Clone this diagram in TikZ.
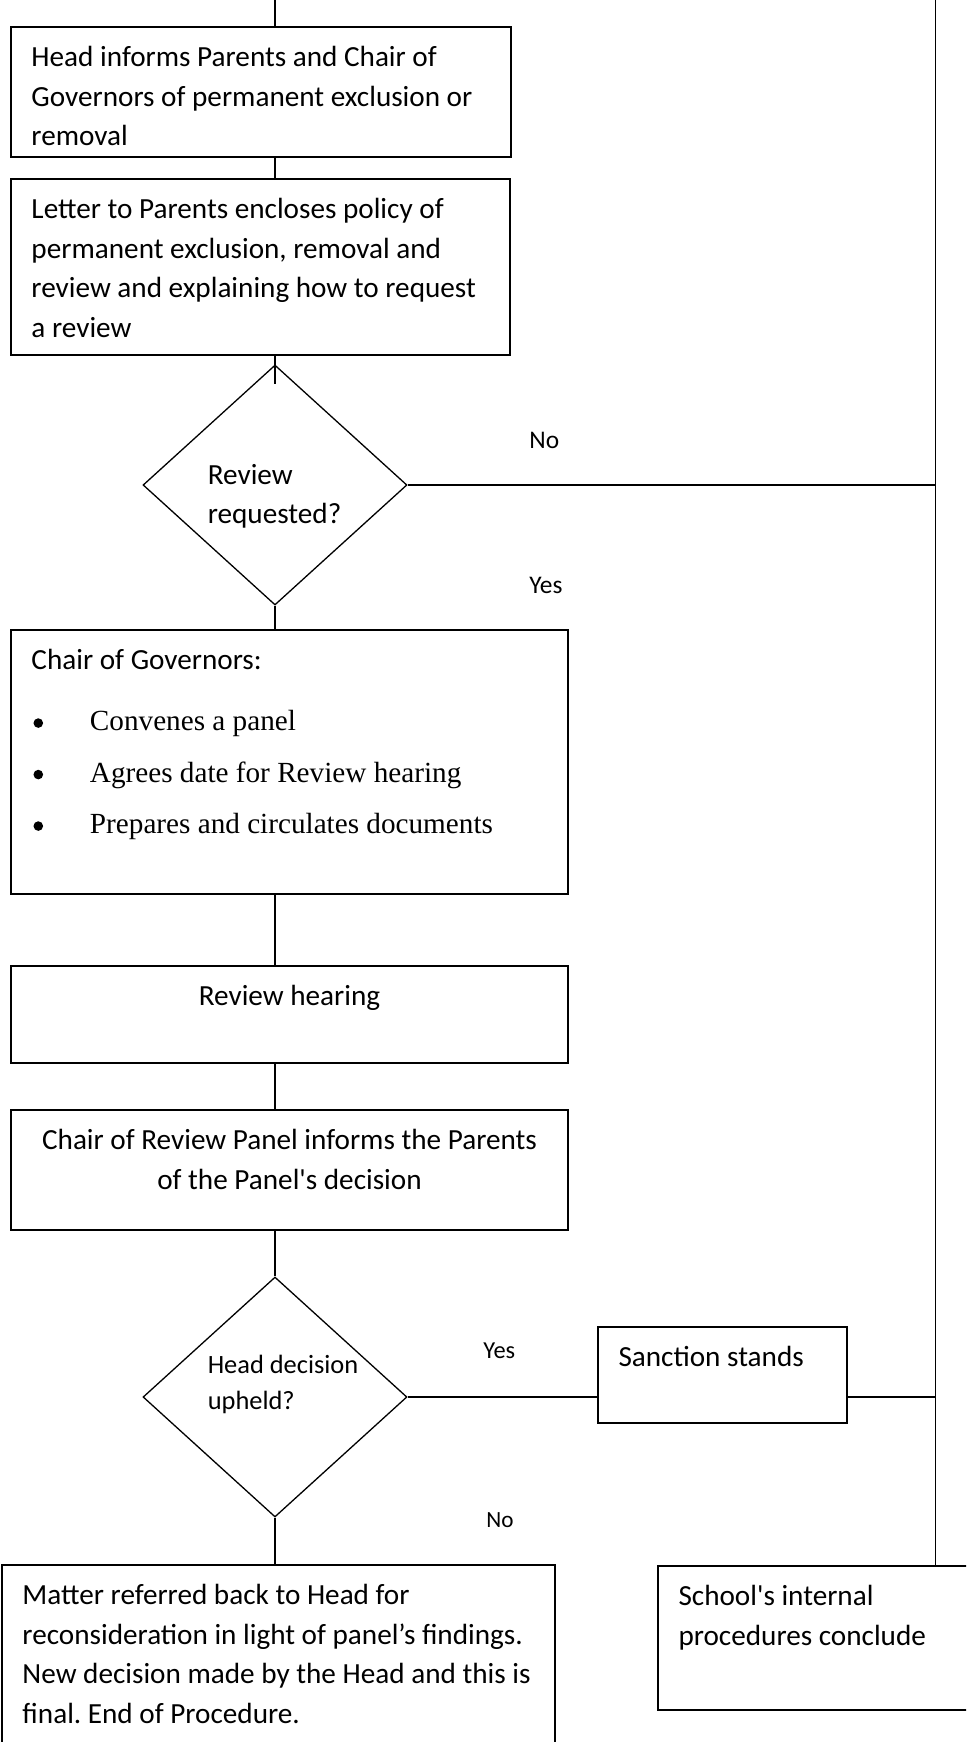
\documentclass[tikz,border=0pt]{standalone}
\usepackage{fontspec}
\setmainfont{Carlito}
\newfontfamily\timesfont{Liberation Serif}
\usetikzlibrary{shapes.geometric}
\frenchspacing

\newcommand{\boxtext}[3]{\parbox[t][#2][t]{#1}{\raggedright\strut #3}}
\newcommand{\bul}{\makebox[29.25pt][l]{\hspace{1pt}\raisebox{1.4pt}{\pgfpicture\pgfpathcircle{\pgfpoint{2.4pt}{2.4pt}}{2.4pt}\pgfusepath{fill}\endpgfpicture}}}

\tikzset{
  stepbox/.style={draw, line width=1pt, anchor=north west, inner xsep=10.25pt, inner ysep=6pt,
    font=\fontsize{14.6}{19.75}\selectfont},
  decision/.style={draw, diamond, line width=0.65pt, minimum width=132pt, minimum height=120pt, inner sep=0pt},
  dtext/.style={anchor=base west, inner sep=0pt},
  answer/.style={anchor=base west, inner sep=0pt},
  link/.style={line width=0.75pt}
}

\begin{document}
\begin{tikzpicture}[x=0.5pt,y=-0.5pt]
\useasboundingbox (0,0) rectangle (966,1742);
\clip (0,0) rectangle (966,1742);

\coordinate (spine) at (275,0);
\coordinate (rail) at (935.5,0);

% main column
\node[stepbox] (inform) at (10,26) {\boxtext{229.25pt}{53pt}{Head informs Parents and Chair of\\Governors of permanent exclusion or\\removal}};
\node[stepbox] (letter) at (10,178) {\boxtext{228.75pt}{76pt}{Letter to Parents encloses policy of\\permanent exclusion, removal and\\review and explaining how to request\\a review}};
\node[decision] (review) at (275,485) {};
\node[dtext, font=\fontsize{14.6}{19.75}\selectfont] (reviewtxt) at (207.4,484) {\parbox[t]{80pt}{\raggedright Review\\requested?}};
\node[stepbox] (chair) at (10,629) {\boxtext{258pt}{120pt}{Chair of Governors:\par\vspace{4.75pt}%
  {\timesfont\fontsize{14.6}{25.75}\selectfont\bul Convenes a panel\\\bul Agrees date for Review hearing\\\bul Prepares and circulates documents\par}}};
\node[stepbox] (hearing) at (10,965) {\boxtext{258pt}{36.5pt}{\centering Review hearing}};
\node[stepbox] (panel) at (10,1109) {\boxtext{258pt}{48pt}{\centering Chair of Review Panel informs the Parents\\of the Panel\textquotesingle s decision}};
\node[decision] (upheld) at (275,1397) {};
\node[dtext, font=\fontsize{13.2}{18}\selectfont] (upheldtxt) at (207.4,1373) {\parbox[t]{80pt}{\raggedright Head decision\\upheld?}};
\node[stepbox] (matter) at (1,1564) {\boxtext{256pt}{86pt}{Matter referred back to Head for\\reconsideration in light of panel’s findings.\\New decision made by the Head and this is\\final. End of Procedure.}};

% right side
\node[stepbox] (sanction) at (597,1326) {\boxtext{104pt}{36pt}{Sanction stands}};
\node[stepbox] (school) at (657,1565) {\boxtext{151pt}{60pt}{School\textquotesingle s internal\\procedures conclude}};

% answers
\node[answer, font=\fontsize{12.7}{15}\selectfont] (nofirst) at (529,448) {No};
\node[answer, font=\fontsize{12.7}{15}\selectfont] (yesfirst) at (529,593) {Yes};
\node[answer, font=\fontsize{12.2}{15}\selectfont] (yessecond) at (483,1358) {Yes};
\node[answer, font=\fontsize{11.6}{15}\selectfont] (nosecond) at (486,1527) {No};

% connectors
\draw[link] (spine) -- (spine |- inform.north);
\draw[link] (spine |- inform.south) -- (spine |- letter.north);
\draw[link] (spine |- letter.south) -- ([yshift=-10pt]review.north);
\draw[link] (review.south) -- (spine |- chair.north);
\draw[link] (spine |- chair.south) -- (spine |- hearing.north);
\draw[link] (spine |- hearing.south) -- (spine |- panel.north);
\draw[link] (spine |- panel.south) -- (upheld.north);
\draw[link] (upheld.south) -- (spine |- matter.north);
\draw[link] (review.east) -- (review.east -| rail);
\draw[link] (upheld.east) -- (upheld.east -| sanction.west);
\draw[link] (sanction.east |- upheld.east) -- (upheld.east -| rail);
\draw[link] (rail) -- (rail |- school.north);
\end{tikzpicture}
\end{document}
